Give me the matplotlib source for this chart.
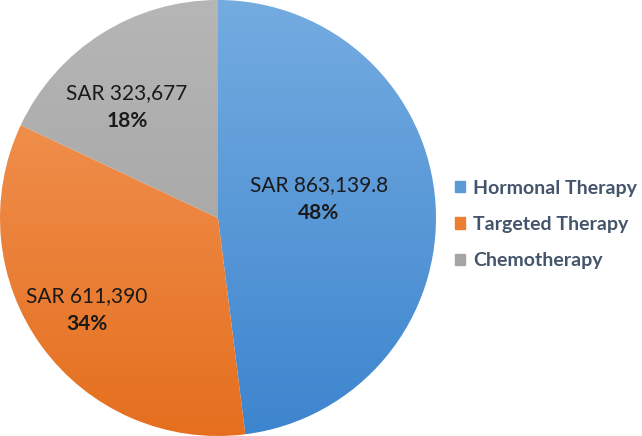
import numpy as np
import matplotlib
matplotlib.use('Agg')
import matplotlib.pyplot as plt
from matplotlib.colors import LinearSegmentedColormap

# data
categories = ['Hormonal Therapy', 'Targeted Therapy', 'Chemotherapy']
values = [863139.8, 611390, 323677]
value_labels = ['SAR 863,139.8', 'SAR 611,390', 'SAR 323,677']

# colours: (top of gradient, bottom of gradient), legend swatch
grad = [('#74ace0', '#3d85cf'), ('#f39a5c', '#e56f1f'), ('#b6b6b6', '#9d9d9d')]
swatch = ['#5b9bd5', '#ed7d31', '#a5a5a5']
# label centres inside the pie (axes data units, radius = 1)
label_xy = [(0.463, 0.085), (-0.601, -0.422), (-0.417, 0.511)]

plt.rcParams['font.family'] = ['Lato', 'DejaVu Sans']

fig = plt.figure(figsize=(6.42, 4.36), dpi=100)
ax = fig.add_axes([0, 0, 436 / 642, 1])

wedges, _ = ax.pie(values, startangle=90, counterclock=False, radius=1,
                   wedgeprops=dict(linewidth=0))
ax.set_xlim(-1, 1)
ax.set_ylim(-1, 1)
ax.set_aspect('equal')

# vertical gradient inside each wedge
yy = np.linspace(1, 0, 256).reshape(-1, 1)
for w, (c1, c2) in zip(wedges, grad):
    w.set_facecolor('none')
    cmap = LinearSegmentedColormap.from_list('g', [c2, c1])
    im = ax.imshow(yy, cmap=cmap, extent=[-1, 1, -1, 1], aspect='auto',
                   origin='upper', zorder=0, vmin=0, vmax=1)
    im.set_clip_path(w)

total = sum(values)
for lab, v, (x, y) in zip(value_labels, values, label_xy):
    ax.text(x, y + 0.064, lab, ha='center', va='center', fontsize=15, color='#1a1a1a')
    ax.text(x, y - 0.064, '%d%%' % round(v / total * 100), ha='center', va='center',
            fontsize=15, fontweight='bold', color='#1a1a1a')
ax.axis('off')

handles = [plt.Rectangle((0, 0), 1, 1, color=c) for c in swatch]
leg = fig.legend(handles, categories, loc='center left', bbox_to_anchor=(455 / 642, 0.485),
                 frameon=False, borderpad=0, borderaxespad=0,
                 handlelength=0.52, handleheight=0.52, handletextpad=0.41,
                 labelspacing=1.0, prop=dict(size=14, weight='bold'))
for t in leg.get_texts():
    t.set_color('#44546a')

plt.savefig('out.png', dpi=100)
